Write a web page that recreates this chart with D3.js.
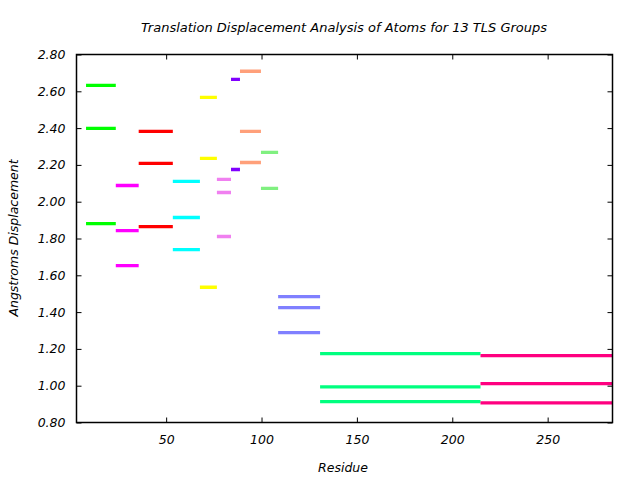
<!DOCTYPE html>
<html><head><meta charset="utf-8">
<script src="https://cdn.jsdelivr.net/npm/d3@7"></script>
<style>body{margin:0;background:#fff}svg text{font-family:"DejaVu Sans",sans-serif;font-style:italic;font-size:12.5px;fill:#000}</style>
</head><body><svg id="c" width="640" height="480"></svg>
<script>
const groupStarts = [8, 23.6, 35.6, 53.5, 67.7, 76.6, 84, 88.7, 99.7, 108.7, 130.7, 214.8];
const groupEnds   = [23.6, 35.6, 53.5, 67.7, 76.6, 84, 88.7, 99.7, 108.7, 130.7, 214.8, 285];
const groupColors = ["#00ff00","#ff00ff","#ff0000","#00ffff","#ffff00","#f080f0","#8000ff","#ffa07a","#80f080","#8080ff","#00ff7f","#ff0080"];
const groupValues = [
  [2.632, 2.398, 1.881],
  [2.088, 1.843, 1.653],
  [2.382, 2.208, 1.865],
  [2.110, 1.914, 1.740],
  [2.567, 2.235, 1.535],
  [2.121, 2.050, 1.811],
  [2.665, 2.175],
  [2.709, 2.382, 2.213],
  [2.268, 2.072],
  [1.484, 1.424, 1.288],
  [1.174, 0.994, 0.913],
  [1.163, 1.011, 0.907]
];
const xTicks = [50, 100, 150, 200, 250];
const yTicks = [0.8, 1.0, 1.2, 1.4, 1.6, 1.8, 2.0, 2.2, 2.4, 2.6, 2.8];

const svg = d3.select("#c");
const L = 76.5, R = 612.5, T = 54.5, B = 422.5;
const x = d3.scaleLinear().domain([3, 284]).range([L, R]);
const y = d3.scaleLinear().domain([0.8, 2.8]).range([B, T]);

svg.append("defs").append("clipPath").attr("id","clip")
  .append("rect").attr("x",L).attr("y",T).attr("width",R-L).attr("height",B-T);

const segs = [];
groupValues.forEach((vals,i)=>vals.forEach(v=>segs.push({x0:groupStarts[i],x1:groupEnds[i],v,c:groupColors[i]})));
svg.append("g").attr("clip-path","url(#clip)").selectAll("line").data(segs).join("line")
  .attr("x1",d=>x(d.x0)).attr("x2",d=>x(d.x1))
  .attr("y1",d=>y(d.v)).attr("y2",d=>y(d.v))
  .attr("stroke",d=>d.c).attr("stroke-width",3.3);

const fmt = d3.format(".2f");
const gL = svg.append("g").attr("transform",`translate(${L},0)`)
  .call(d3.axisLeft(y).tickValues(yTicks).tickFormat(fmt).tickSizeInner(-5).tickSizeOuter(0).tickPadding(11));
const gR = svg.append("g").attr("transform",`translate(${R},0)`)
  .call(d3.axisRight(y).tickValues(yTicks).tickFormat("").tickSizeInner(-5).tickSizeOuter(0));
const gB = svg.append("g").attr("transform",`translate(0,${B})`)
  .call(d3.axisBottom(x).tickValues(xTicks).tickFormat(d3.format("d")).tickSizeInner(-5).tickSizeOuter(0).tickPadding(13));
const gT = svg.append("g").attr("transform",`translate(0,${T})`)
  .call(d3.axisTop(x).tickValues(xTicks).tickFormat("").tickSizeInner(-5).tickSizeOuter(0));
[gL,gR,gB,gT].forEach(g=>{
  g.selectAll(".domain").remove();
  g.selectAll("line").attr("stroke","#000").attr("stroke-width",1);
  g.selectAll("text").attr("font-family",null).attr("font-size",null).attr("font-style","italic");
});
svg.append("rect").attr("x",L).attr("y",T).attr("width",R-L).attr("height",B-T)
  .attr("fill","none").attr("stroke","#000").attr("stroke-width",1.5);

svg.append("text").attr("x",344).attr("y",32).attr("text-anchor","middle").style("font-size","13px")
  .text("Translation Displacement Analysis of Atoms for 13 TLS Groups");
svg.append("text").attr("x",343).attr("y",472).attr("text-anchor","middle").text("Residue");
svg.append("text").attr("transform","translate(18,238) rotate(-90)").attr("text-anchor","middle")
  .text("Angstroms Displacement");
</script></body></html>
